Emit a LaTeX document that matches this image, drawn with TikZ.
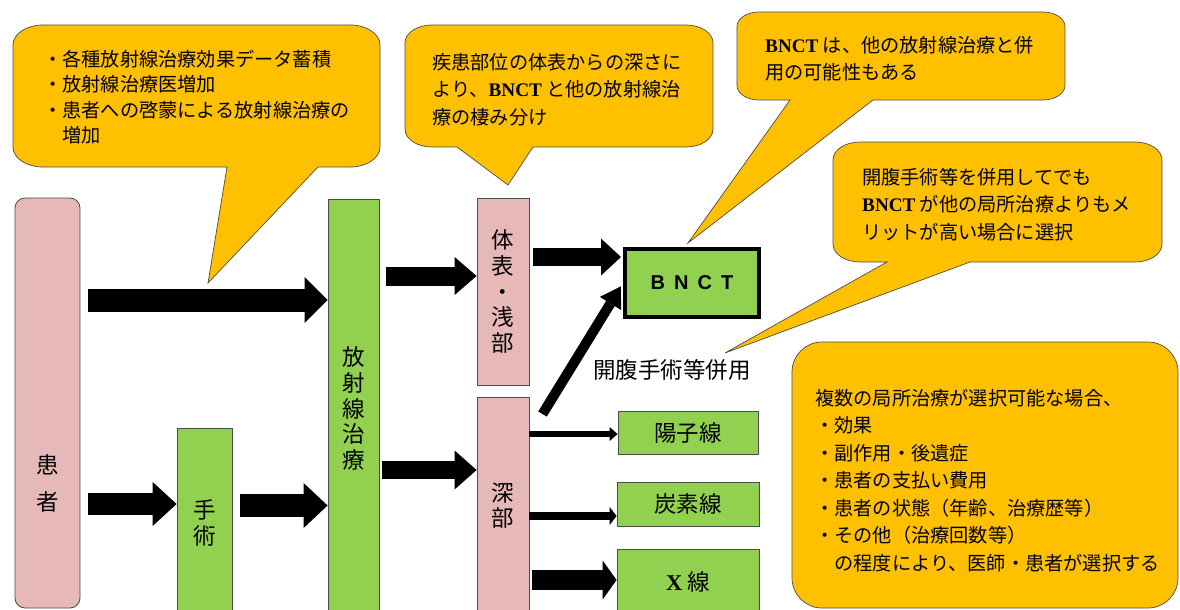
\documentclass[tikz,border=0pt]{standalone}
\usepackage{fontspec}
\newfontfamily\jp{Noto Sans CJK JP}
\newfontfamily\tnr{Liberation Serif}
\newfontfamily\arl{Liberation Sans}
\usetikzlibrary{arrows.meta}
\definecolor{callc}{RGB}{255,192,0}
\definecolor{pinkc}{RGB}{230,185,184}
\definecolor{greenc}{RGB}{146,208,80}
\newcommand\bn{{\tnr\bfseries BNCT}}
\newcommand\callshape[9]{%
\filldraw[callout] ({#1+#9},#2) -- ({#3-#9},#2)
  arc[start angle=90,end angle=0,x radius=#9pt,y radius=0.66*#9pt]
  -- (#3,{#4-0.66*#9})
  arc[start angle=0,end angle=-90,x radius=#9pt,y radius=0.66*#9pt]
  -- (#6,#4) -- (#7,#8) -- (#5,#4) -- ({#1+#9},#4)
  arc[start angle=-90,end angle=-180,x radius=#9pt,y radius=0.66*#9pt]
  -- (#1,{#2+0.66*#9})
  arc[start angle=180,end angle=90,x radius=#9pt,y radius=0.66*#9pt]
  -- cycle;}
\begin{document}
\begin{tikzpicture}[x=1pt,y=-1pt,
  callout/.style={fill=callc,draw=black!70,line width=0.7pt},
  ctext/.style={inner sep=0pt,anchor=west,align=left,font=\jp\fontsize{19.2}{#1}\selectfont},
  box/.style={draw=black!70,line width=0.8pt,inner sep=0pt,align=center,font=\jp\fontsize{22.5}{25.6}\selectfont},
  pinkbox/.style={box,fill=pinkc},
  greenbox/.style={box,fill=greenc},
  barrow/.style n args={3}{line width=#1,-{Triangle[length=#2,width=#3,line width=0pt]}}]
\useasboundingbox (0,0) rectangle (1180,610);
\fill[white] (0,0) rectangle (1180,610);
\clip (0,0) rectangle (1180,610);

% callouts
\callshape{13}{25}{380}{167}{227}{318}{208}{283}{30}
\callshape{405}{25}{713}{147}{457}{533}{508}{185}{27}
\callshape{737}{12}{1065}{100}{790}{873}{688}{243}{22}
\callshape{833}{142}{1162}{262}{887}{970}{725}{353}{27}
\draw[callout,rounded corners=30pt] (792,342) rectangle (1178,608);

\node[ctext=25.3] (c1) at (43,97) {・各種放射線治療効果データ蓄積\\・放射線治療医増加\\・患者への啓蒙による放射線治療の\\\hspace*{1em}増加};
\node[ctext=27.5] (c2) at (432,89.5) {疾患部位の体表からの深さに\\より、\bn{} と他の放射線治\\療の棲み分け};
\node[ctext=27] (c3) at (765,58.5) {\bn{} は、他の放射線治療と併\\用の可能性もある};
\node[ctext=27.5] (c4) at (862,204.5) {開腹手術等を併用してでも\\\bn{} が他の局所治療よりもメ\\リットが高い場合に選択};
\node[ctext=27.5] (c5) at (815,480.5) {複数の局所治療が選択可能な場合、\\・効果\\・副作用・後遺症\\・患者の支払い費用\\・患者の状態（年齢、治療歴等）\\・その他（治療回数等）\\\hspace*{1em}の程度により、医師・患者が選択する};

% boxes
\node[pinkbox,rounded corners=10pt,minimum width=65pt,minimum height=410pt,
  label={[name=ptext,font=\jp\fontsize{22.5}{37}\selectfont,align=center,yshift=-80.5pt]center:患\\者}] (patient) at (47.5,403) {};
\node[greenbox,minimum width=55pt,minimum height=190pt] (surg) at (204.5,523) {手\\術};
\node[greenbox,minimum width=51pt,minimum height=418pt] (rt) at (353.5,408.5) {放\\射\\線\\治\\療};
\node[pinkbox,minimum width=52pt,minimum height=187pt] (surf) at (503,291.5) {体\\表\\・\\浅\\部};
\node[pinkbox,minimum width=52pt,minimum height=217pt] (deep) at (503,505.5) {深\\部};
\node[draw=black,line width=4pt,fill=greenc,minimum width=134pt,minimum height=68pt,inner sep=0pt,
  font=\arl\bfseries\fontsize{20}{24}\selectfont] (bnct) at (692,283) {B\hspace{9pt}N\hspace{9pt}C\hspace{9pt}T};
\node[greenbox,minimum width=140pt,minimum height=43pt] (proton) at (688,432.5) {陽子線};
\node[greenbox,minimum width=142pt,minimum height=44pt] (carbon) at (688,504) {炭素線};
\node[greenbox,minimum width=142pt,minimum height=66pt] (xray) at (688,582) {{\tnr\bfseries X} 線};
\node[font=\jp\fontsize{22.5}{26}\selectfont,inner sep=0pt] (kf) at (672,370) {開腹手術等併用};

% arrows
\coordinate (a1) at (88,300);
\draw[barrow={23pt}{23pt}{46pt}] (a1) -- (a1 -| rt.west);
\coordinate (a2) at (88,504);
\draw[barrow={22pt}{24pt}{44pt}] (a2) -- (a2 -| surg.west);
\coordinate (a3) at (240,505.5);
\draw[barrow={23pt}{24pt}{45pt}] (a3) -- (a3 -| rt.west);
\coordinate (a4) at (386,276);
\draw[barrow={19pt}{22pt}{38pt}] (a4) -- (a4 -| surf.west);
\coordinate (a5) at (382,470);
\draw[barrow={18pt}{22pt}{39pt}] (a5) -- (a5 -| deep.west);
\coordinate (a6) at (533,257);
\draw[barrow={18pt}{20pt}{37pt},shorten >=2pt] (a6) -- (a6 -| bnct.west);
\coordinate (a7) at (542.5,414);
\draw[barrow={10pt}{20pt}{25pt},shorten >=4pt] (a7) -- (bnct.west);
\coordinate (a8) at (529,434);
\draw[barrow={6pt}{8pt}{14pt}] (a8) -- (a8 -| proton.west);
\coordinate (a9) at (529,516);
\draw[barrow={8pt}{7pt}{18pt}] (a9) -- (a9 -| carbon.west);
\coordinate (a10) at (532,580);
\draw[barrow={20pt}{14pt}{39pt}] (a10) -- (a10 -| xray.west);
\end{tikzpicture}
\end{document}
